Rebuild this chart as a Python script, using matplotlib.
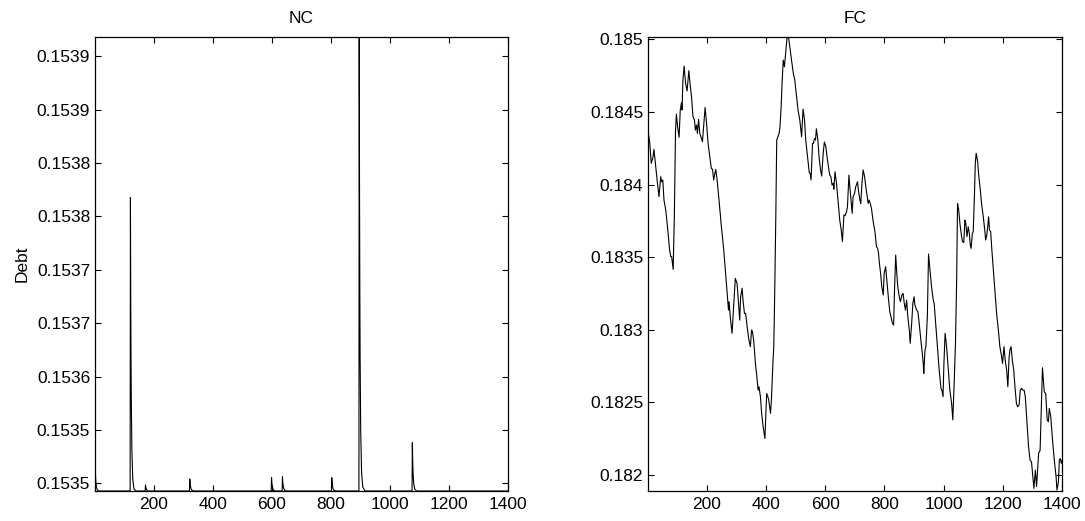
import matplotlib
matplotlib.use("Agg")
import matplotlib.pyplot as plt
from matplotlib.ticker import FormatStrFormatter, FuncFormatter

plt.rcParams['font.family'] = ['Liberation Sans', 'DejaVu Sans']

# ---------------- data ----------------
# NC series (sparse samples: baseline with decaying spikes)
nc_x = [1, 2, 3, 4, 6, 9, 14,
        120, 121, 122, 123, 124, 126, 129, 133, 141,
        171, 172, 173, 174, 176, 180,
        321, 322, 323, 324, 326, 330, 336,
        598, 599, 600, 601, 603, 607, 613,
        635, 636, 637, 638, 640, 644, 650,
        802, 803, 804, 805, 807, 811, 817,
        895, 896, 897, 898, 899, 901, 904, 908, 916,
        1075, 1076, 1077, 1078, 1079, 1081, 1084, 1090,
        1400]
nc_y = [0.1535180, 0.1535070, 0.1535000, 0.1534950, 0.1534900, 0.1534870, 0.1534860,
        0.1534860, 0.1537885, 0.1536890, 0.1536220, 0.1535770, 0.1535270, 0.1534980, 0.1534880, 0.1534860,
        0.1534860, 0.1534922, 0.1534902, 0.1534888, 0.1534872, 0.1534860,
        0.1534860, 0.1534984, 0.1534943, 0.1534916, 0.1534885, 0.1534865, 0.1534860,
        0.1534860, 0.1534997, 0.1534952, 0.1534922, 0.1534887, 0.1534865, 0.1534860,
        0.1534860, 0.1535007, 0.1534958, 0.1534926, 0.1534889, 0.1534866, 0.1534860,
        0.1534860, 0.1534997, 0.1534952, 0.1534922, 0.1534887, 0.1534865, 0.1534860,
        0.1534860, 0.1539540, 0.1538000, 0.1536970, 0.1536260, 0.1535490, 0.1535050, 0.1534900, 0.1534860,
        0.1534860, 0.1535358, 0.1535190, 0.1535080, 0.1535010, 0.1534930, 0.1534880, 0.1534860,
        0.1534860]
nc_yticks = [0.153494, 0.153549, 0.153604, 0.153659, 0.153714,
             0.153769, 0.153824, 0.153879, 0.153934]
nc_ylim = (0.153486, 0.153954)

# FC series
fc_x = [1, 7, 12, 18, 21, 27, 33, 38, 44, 47, 51, 55, 61, 68, 74, 78, 81, 86, 90, 94,
        97, 101, 106, 110, 114, 116, 119, 123, 128, 133, 139, 143, 148, 153, 158, 161, 165, 168, 172, 176,
        180, 185, 189, 194, 198, 204, 210, 215, 219, 223, 227, 230, 234, 241, 249, 257, 264, 269, 273, 275,
        280, 285, 291, 296, 302, 307, 311, 314, 319, 322, 327, 331, 336, 342, 347, 351, 354, 358, 364, 370,
        373, 376, 381, 385, 390, 396, 399, 402, 406, 409, 415, 418, 423, 426, 429, 433, 436, 440, 444, 447,
        451, 454, 458, 462, 467, 471, 476, 480, 486, 492, 497, 503, 508, 514, 520, 525, 530, 534, 540, 546,
        549, 552, 557, 560, 564, 567, 570, 575, 579, 584, 588, 593, 597, 602, 606, 611, 615, 619, 623, 627,
        629, 633, 638, 644, 649, 654, 658, 663, 667, 672, 675, 680, 683, 688, 691, 694, 699, 703, 709, 712,
        717, 720, 724, 728, 733, 737, 742, 745, 748, 752, 756, 762, 768, 773, 777, 780, 783, 787, 791, 796,
        799, 804, 807, 813, 818, 823, 827, 831, 834, 838, 841, 845, 850, 854, 859, 863, 867, 871, 875, 879,
        884, 887, 892, 896, 900, 903, 909, 913, 918, 923, 928, 931, 933, 937, 940, 945, 949, 954, 959, 965,
        968, 974, 980, 985, 991, 994, 998, 1001, 1005, 1010, 1016, 1021, 1027, 1031, 1036, 1040, 1044, 1047, 1051, 1055,
        1060, 1064, 1068, 1072, 1075, 1079, 1083, 1087, 1090, 1093, 1097, 1100, 1104, 1107, 1110, 1115, 1119, 1124, 1128, 1134,
        1139, 1142, 1145, 1149, 1152, 1155, 1159, 1163, 1168, 1173, 1179, 1185, 1190, 1196, 1199, 1204, 1208, 1213, 1217, 1221,
        1224, 1228, 1232, 1237, 1241, 1246, 1250, 1255, 1259, 1264, 1267, 1272, 1276, 1281, 1287, 1292, 1297, 1305, 1310, 1314,
        1321, 1326, 1334, 1340, 1345, 1350, 1354, 1357, 1362, 1368, 1374, 1380, 1383, 1388, 1391, 1394, 1398, 1400]
fc_y = [0.184376, 0.184284, 0.184147, 0.184192, 0.184243, 0.184124, 0.184009, 0.183917, 0.184055, 0.184020,
        0.184032, 0.183894, 0.183825, 0.183687, 0.183550, 0.183504, 0.183504, 0.183416, 0.183779, 0.184376,
        0.184486, 0.184399, 0.184326, 0.184514, 0.184564, 0.184514, 0.184721, 0.184817, 0.184698, 0.184645,
        0.184785, 0.184698, 0.184606, 0.184468, 0.184445, 0.184376, 0.184411, 0.184353, 0.184450, 0.184353,
        0.184330, 0.184296, 0.184399, 0.184532, 0.184445, 0.184284, 0.184192, 0.184112, 0.184105, 0.184032,
        0.184078, 0.184105, 0.184043, 0.183894, 0.183710, 0.183550, 0.183366, 0.183228, 0.183136, 0.183194,
        0.183067, 0.182976, 0.183182, 0.183354, 0.183320, 0.183182, 0.183067, 0.183228, 0.183286, 0.183205,
        0.183113, 0.183113, 0.183022, 0.182930, 0.182884, 0.182999, 0.182987, 0.182930, 0.182769, 0.182654,
        0.182585, 0.182608, 0.182539, 0.182425, 0.182333, 0.182252, 0.182402, 0.182562, 0.182539, 0.182516,
        0.182425, 0.182516, 0.182769, 0.182884, 0.183228, 0.183802, 0.184307, 0.184330, 0.184353, 0.184399,
        0.184537, 0.184698, 0.184858, 0.184812, 0.184927, 0.185015, 0.185015, 0.184950, 0.184858, 0.184767,
        0.184721, 0.184606, 0.184514, 0.184445, 0.184330, 0.184521, 0.184445, 0.184307, 0.184192, 0.184082,
        0.184078, 0.184032, 0.184284, 0.184284, 0.184319, 0.184307, 0.184385, 0.184307, 0.184192, 0.184101,
        0.184059, 0.184216, 0.184294, 0.184261, 0.184192, 0.184124, 0.184066, 0.184055, 0.183997, 0.184009,
        0.183968, 0.184089, 0.184009, 0.183871, 0.183756, 0.183687, 0.183607, 0.183791, 0.183786, 0.183814,
        0.183848, 0.184066, 0.183986, 0.183871, 0.183802, 0.183917, 0.183940, 0.183986, 0.184020, 0.183963,
        0.183894, 0.183871, 0.184009, 0.184101, 0.184055, 0.183986, 0.183917, 0.183871, 0.183894, 0.183871,
        0.183837, 0.183745, 0.183676, 0.183573, 0.183561, 0.183527, 0.183458, 0.183389, 0.183297, 0.183240,
        0.183389, 0.183435, 0.183366, 0.183228, 0.183125, 0.183079, 0.183045, 0.183033, 0.183274, 0.183515,
        0.183412, 0.183297, 0.183228, 0.183194, 0.183240, 0.183251, 0.183182, 0.183136, 0.183205, 0.183090,
        0.182999, 0.182907, 0.183045, 0.183182, 0.183228, 0.183171, 0.183136, 0.183125, 0.183033, 0.182930,
        0.182838, 0.182769, 0.182700, 0.182861, 0.182884, 0.183090, 0.183522, 0.183412, 0.183297, 0.183205,
        0.183182, 0.183022, 0.182861, 0.182723, 0.182597, 0.182585, 0.182539, 0.182769, 0.182976, 0.182884,
        0.182723, 0.182585, 0.182493, 0.182380, 0.182654, 0.182907, 0.183343, 0.183871, 0.183825, 0.183733,
        0.183653, 0.183607, 0.183602, 0.183756, 0.183733, 0.183642, 0.183710, 0.183664, 0.183584, 0.183561,
        0.183664, 0.183676, 0.183917, 0.184147, 0.184216, 0.184158, 0.184055, 0.183963, 0.183871, 0.183779,
        0.183687, 0.183619, 0.183642, 0.183710, 0.183779, 0.183687, 0.183676, 0.183550, 0.183412, 0.183274,
        0.183113, 0.182999, 0.182884, 0.182815, 0.182769, 0.182884, 0.182792, 0.182723, 0.182608, 0.182803,
        0.182861, 0.182884, 0.182792, 0.182723, 0.182608, 0.182493, 0.182470, 0.182482, 0.182585, 0.182597,
        0.182585, 0.182585, 0.182539, 0.182379, 0.182195, 0.182103, 0.182090, 0.181908, 0.182034, 0.181920,
        0.182149, 0.182170, 0.182739, 0.182574, 0.182560, 0.182379, 0.182367, 0.182459, 0.182402, 0.182241,
        0.182103, 0.181988, 0.181897, 0.181954, 0.182103, 0.182115, 0.182080, 0.182100]
fc_yticks = [0.182, 0.1825, 0.183, 0.1835, 0.184, 0.1845, 0.185]
fc_ylim = (0.18189, 0.185017)

xticks = [200, 400, 600, 800, 1000, 1200, 1400]
xlim = (1, 1400)
titles = ["NC", "FC"]
ylabel = "Debt"

# ---------------- figure ----------------
W, H = 1085, 521
fig = plt.figure(figsize=(W / 100, H / 100), dpi=100)
ax1 = fig.add_axes([95 / W, 30 / H, 413 / W, 454 / H])
ax2 = fig.add_axes([648 / W, 30 / H, 414 / W, 454 / H])

FS = 12.5
for ax in (ax1, ax2):
    ax.set_xlim(*xlim)
    ax.set_xticks(xticks)
    ax.tick_params(direction='in', top=True, right=True, length=4.5, width=0.8,
                   labelsize=FS, colors='black')
    ax.tick_params(axis='y', pad=3.5)
    ax.tick_params(axis='x', pad=4.5)
    for s in ax.spines.values():
        s.set_linewidth(0.9)
        s.set_color('black')

ax1.plot(nc_x, nc_y, color='black', linewidth=0.8)
ax1.set_ylim(*nc_ylim)
ax1.set_yticks(nc_yticks)
ax1.yaxis.set_major_formatter(FormatStrFormatter('%.4f'))
ax1.set_title(titles[0], fontsize=FS, pad=10)
ax1.set_ylabel(ylabel, fontsize=FS, labelpad=5)

ax2.plot(fc_x, fc_y, color='black', linewidth=0.8)
ax2.set_ylim(*fc_ylim)
ax2.set_yticks(fc_yticks)
ax2.yaxis.set_major_formatter(FuncFormatter(lambda v, p: '%g' % v))
ax2.set_title(titles[1], fontsize=FS, pad=10)

fig.savefig("out.png", dpi=100, facecolor='white')
